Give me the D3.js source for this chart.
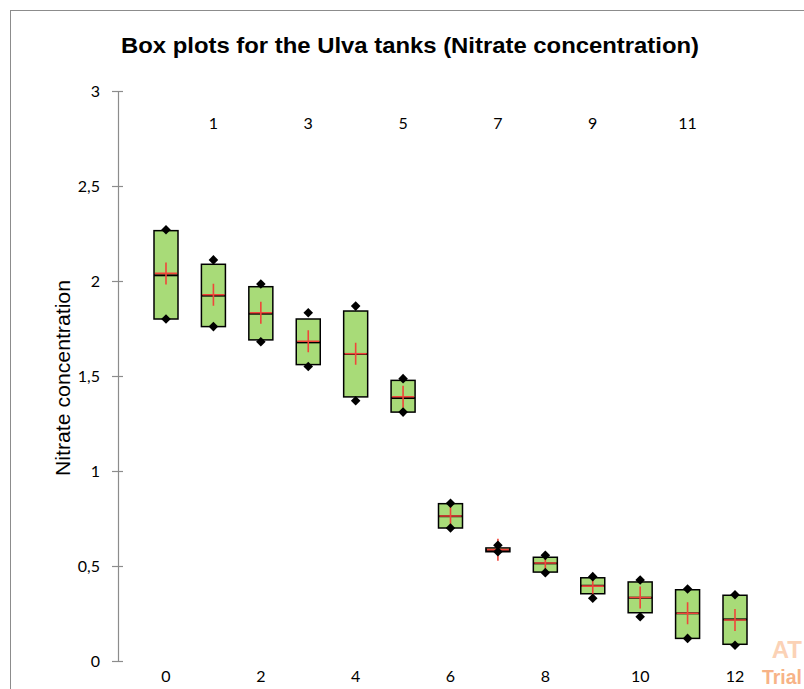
<!DOCTYPE html>
<html>
<head>
<meta charset="utf-8">
<script src="https://cdn.jsdelivr.net/npm/d3@7"></script>
<style>
  body { margin: 0; background: #fff; }
  svg { display: block; }
</style>
</head>
<body>
<svg></svg>
<script>
// tanks 0..12 and their box plot statistics (nitrate concentration)
var tanks   = [0, 1, 2, 3, 4, 5, 6, 7, 8, 9, 10, 11, 12];
var minVals = [1.80, 1.76, 1.68, 1.55, 1.37, 1.31, 0.70, 0.575, 0.465, 0.33, 0.233, 0.119, 0.083];
var q1Vals  = [1.80, 1.76, 1.69, 1.56, 1.39, 1.31, 0.70, 0.575, 0.468, 0.354, 0.254, 0.119, 0.088];
var medVals = [2.03, 1.923, 1.828, 1.677, 1.616, 1.384, 0.762, 0.584, 0.514, 0.396, 0.333, 0.251, 0.219];
var q3Vals  = [2.265, 2.088, 1.970, 1.800, 1.842, 1.477, 0.828, 0.595, 0.546, 0.438, 0.416, 0.375, 0.346];
var maxVals = [2.27, 2.111, 1.984, 1.833, 1.868, 1.486, 0.830, 0.609, 0.556, 0.444, 0.426, 0.379, 0.349];
var meanVals= [2.04, 1.928, 1.833, 1.683, 1.617, 1.391, 0.763, 0.586, 0.516, 0.394, 0.334, 0.251, 0.216];
var yTicks  = [0, 0.5, 1, 1.5, 2, 2.5, 3];

var W = 804, H = 689;

var svg = d3.select("svg").attr("width", W).attr("height", H);

// chart frame
svg.append("rect")
    .attr("x", 10.5).attr("y", 10.5)
    .attr("width", W + 20).attr("height", H + 20)
    .attr("fill", "none")
    .attr("stroke", "#8c8c8c")
    .attr("stroke-width", 1);

var x = d3.scaleLinear().domain([0, 12]).range([166, 735]);
var y = d3.scaleLinear().domain([0, 3]).range([661, 91]);

var fmt = function(d) { return String(d).replace(".", ","); };

// Title
svg.append("text")
    .attr("x", 410).attr("y", 53)
    .attr("text-anchor", "middle")
    .style("font-family", "'Liberation Sans', Arial, sans-serif")
    .style("font-weight", "bold")
    .style("font-size", "22px")
    .attr("textLength", 578)
    .attr("lengthAdjust", "spacingAndGlyphs")
    .text("Box plots for the Ulva tanks (Nitrate concentration)");

// Y axis
var yAxis = svg.append("g")
    .attr("transform", "translate(118,0)")
    .call(d3.axisLeft(y).tickValues(yTicks).tickFormat(fmt).tickSize(0).tickPadding(18));
yAxis.select(".domain").attr("stroke", "#8c8c8c").attr("stroke-width", 1.2);
yAxis.selectAll(".tick line").remove();
yAxis.selectAll(".tick").append("line")
    .attr("x1", -6).attr("x2", 5)
    .attr("stroke", "#8c8c8c").attr("stroke-width", 1.2);
yAxis.selectAll(".tick text")
    .style("font-family", "Lato, 'Open Sans', sans-serif")
    .style("font-size", "16px")
    .attr("fill", "#000");

svg.append("text")
    .attr("transform", "translate(70,378) rotate(-90)")
    .attr("text-anchor", "middle")
    .style("font-family", "'Liberation Sans', Arial, sans-serif")
    .style("font-size", "20px")
    .attr("textLength", 196)
    .attr("lengthAdjust", "spacingAndGlyphs")
    .text("Nitrate concentration");

// X labels: even tanks below, odd tanks above
var xLab = svg.append("g")
    .style("font-family", "Lato, 'Open Sans', sans-serif")
    .style("font-size", "16px")
    .attr("text-anchor", "middle");
xLab.selectAll("text")
    .data(tanks)
  .enter().append("text")
    .attr("x", function(d) { return x(d); })
    .attr("y", function(d) { return d % 2 === 0 ? 682 : 129; })
    .text(function(d) { return d; });

// boxes
var bw = 24;
var boxes = svg.append("g").selectAll("g")
    .data(tanks)
  .enter().append("g")
    .attr("transform", function(d) { return "translate(" + x(d) + ",0)"; });

boxes.append("rect")
    .attr("x", -bw / 2)
    .attr("y", function(d, i) { return y(q3Vals[i]); })
    .attr("width", bw)
    .attr("height", function(d, i) { return Math.max(y(q1Vals[i]) - y(q3Vals[i]), 3); })
    .attr("fill", "#a8db78")
    .attr("stroke", "#000")
    .attr("stroke-width", 1.5);

boxes.append("line")
    .attr("x1", -bw / 2).attr("x2", bw / 2)
    .attr("y1", function(d, i) { return y(medVals[i]); })
    .attr("y2", function(d, i) { return y(medVals[i]); })
    .attr("stroke", "#000")
    .attr("stroke-width", 2);

// mean cross
boxes.append("path")
    .attr("d", function(d, i) {
      var m = y(meanVals[i]);
      return "M" + (-bw / 2 + 1) + "," + m + "H" + (bw / 2 - 1) + "M0," + (m - 11) + "V" + (m + 11);
    })
    .attr("stroke", "#f0453a")
    .attr("stroke-width", 1.6)
    .attr("fill", "none");

// min / max diamonds
var diamond = d3.symbol().type(d3.symbolSquare).size(46);
[minVals, maxVals].forEach(function(arr) {
  boxes.append("path")
      .attr("d", diamond)
      .attr("transform", function(d, i) { return "translate(0," + y(arr[i]) + ") rotate(45)"; })
      .attr("fill", "#000");
});

// trial watermark
svg.append("text")
    .attr("x", 802).attr("y", 658)
    .attr("text-anchor", "end")
    .style("font-family", "'Liberation Sans', Arial, sans-serif")
    .style("font-weight", "bold")
    .style("font-size", "24px")
    .attr("fill", "#fbd2b6")
    .text("AT");
svg.append("text")
    .attr("x", 762).attr("y", 684)
    .style("font-family", "'Liberation Sans', Arial, sans-serif")
    .style("font-weight", "bold")
    .style("font-size", "21px")
    .attr("textLength", 40)
    .attr("lengthAdjust", "spacingAndGlyphs")
    .attr("fill", "#f7b387")
    .text("Trial");
</script>
</body>
</html>
